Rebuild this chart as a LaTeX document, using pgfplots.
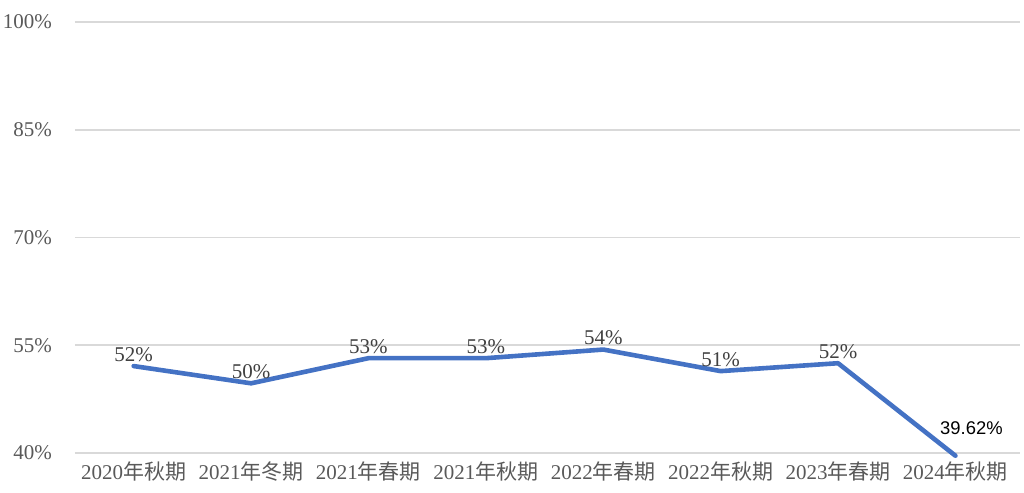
\documentclass[border=0pt]{standalone}
\usepackage{fontspec}
\setmainfont{Liberation Serif}
\newfontfamily\cjk{Noto Sans CJK SC}
\newfontfamily\arialfont{Liberation Sans}
\usepackage{pgfplots}
\pgfplotsset{compat=1.18}
\definecolor{linecol}{RGB}{68,114,196}
\definecolor{gridcol}{RGB}{217,217,217}
\definecolor{labcol}{RGB}{89,89,89}
\definecolor{valcol}{RGB}{64,64,64}

\begin{document}
\begin{tikzpicture}
\begin{axis}[
    scale only axis,
    width=472.5pt, height=215.5pt,
    xmin=-0.5, xmax=7.55,
    ymin=40, ymax=100,
    ytick={40,55,70,85,100},
    yticklabels={40\%,55\%,70\%,85\%,100\%},
    xtick={0,...,7},
    xticklabels={{2020\cjk 年秋期},{2021\cjk 年冬期},{2021\cjk 年春期},{2021\cjk 年秋期},
                 {2022\cjk 年春期},{2022\cjk 年秋期},{2023\cjk 年春期},{2024\cjk 年秋期}},
    axis line style={draw=none},
    major tick length=0pt,
    ymajorgrids,
    grid style={gridcol, line width=0.8pt},
    tick label style={font=\fontsize{10.5}{12}\selectfont, text=labcol},
    yticklabel style={xshift=-8pt},
    xticklabel style={yshift=-1pt},
    clip=false,
]
  \addplot[linecol, line width=2.3pt, line join=round, line cap=round, mark=none]
    coordinates {
      (0,52.1) (1,49.7) (2,53.2) (3,53.2) (4,54.4) (5,51.4) (6,52.5) (7,39.62)
    };

  \begin{scope}[every node/.style={anchor=south, font=\fontsize{10.5}{12}\selectfont, text=valcol, inner sep=2pt}]
    \node at (axis cs:0,52.1) {52\%};
    \node at (axis cs:1,49.7) {50\%};
    \node at (axis cs:2,53.2) {53\%};
    \node at (axis cs:3,53.2) {53\%};
    \node at (axis cs:4,54.4) {54\%};
    \node at (axis cs:5,51.4) {51\%};
    \node at (axis cs:6,52.5) {52\%};
  \end{scope}
  \node[anchor=south, font=\arialfont\fontsize{9.2}{11}\selectfont, text=black, inner sep=0pt, xshift=8pt]
    at (axis cs:7,42.5) {39.62\%};
\end{axis}
\pgfresetboundingbox
\useasboundingbox (-37.5pt,-20pt) rectangle (474.5pt,226.5pt);
\end{tikzpicture}
\end{document}
